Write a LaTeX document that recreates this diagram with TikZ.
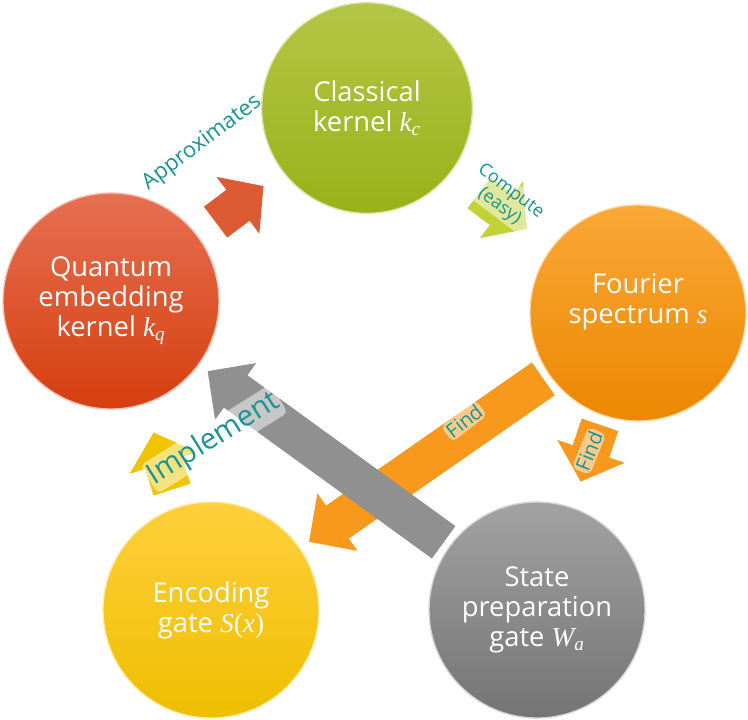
\documentclass[tikz,border=0pt]{standalone}
\usepackage{fontspec}
\setmainfont{Open Sans}
\newfontfamily\mathfam{Liberation Serif}
\usetikzlibrary{arrows.meta,calc,positioning}
\pgfdeclarelayer{bg}
\pgfsetlayers{bg,main}
\newcommand{\mv}[1]{{\mathfam\itshape #1}}
\newcommand{\mup}[1]{{\mathfam #1}}
\definecolor{kgreenT}{RGB}{180,198,70}
\definecolor{kgreenB}{RGB}{152,178,24}
\definecolor{korangeT}{RGB}{250,168,55}
\definecolor{korangeB}{RGB}{236,135,0}
\definecolor{kredT}{RGB}{230,112,82}
\definecolor{kredB}{RGB}{214,62,14}
\definecolor{kyellowT}{RGB}{255,208,60}
\definecolor{kyellowB}{RGB}{238,190,0}
\definecolor{kgrayT}{RGB}{162,162,162}
\definecolor{kgrayB}{RGB}{116,116,116}
\definecolor{karrow}{RGB}{248,152,28}
\definecolor{kteal}{RGB}{24,148,148}

\begin{document}
\begin{tikzpicture}[x=0.75pt,y=-0.75pt,
ball/.style={circle,inner sep=0pt,minimum size=162pt,align=center,text=white,
  font=\fontsize{20.5}{22.5}\selectfont,
  top color=#1T,bottom color=#1B,draw=#1T!45!white,line width=1pt},
bigarrow/.style={line width=30pt,line cap=butt,-{Triangle[length=26pt,width=51pt]},
  shorten <=5pt,shorten >=8pt},
cycarrow/.style={line width=29pt,line cap=butt,-{Triangle[length=24pt,width=52pt]}},
lbl/.style={text=kteal,inner sep=0pt},
glow/.style={lbl,fill=white,fill opacity=.5,text opacity=1,rounded corners=4pt,inner sep=1.5pt}]
\useasboundingbox (0,0) rectangle (748,719);
% circles
\node[ball=kgreen,minimum size=158pt] (classical) at (367,108) {Classical\\kernel \mv{k}\textsubscript{\mv{c}}};
\node[ball=korange,text depth=22pt] (fourier) at (638,313) {Fourier\\spectrum \mv{s}};
\node[ball=kred] (quantum) at (111,301) {Quantum\\embedding\\kernel \mv{k}\textsubscript{\mv{q}}};
\node[ball=kyellow] (encoding) at (211,610) {Encoding\\gate \mv{S}\mup{(}\mv{x}\mup{)}};
\node[ball=kgray] (state) at (537,610) {State\\preparation\\gate \mv{W}\textsubscript{\mv{a}}};
% long arrows, under the circles
\begin{pgfonlayer}{bg}
\draw[bigarrow,karrow] (fourier) -- (encoding);
\draw[bigarrow,kgrayB!80!white] (state) -- (quantum);
\end{pgfonlayer}
% cycle arrows
\path ($(quantum)!.5!(classical)$) coordinate (m1)
      ($(classical)!.5!(fourier)$) coordinate (m2)
      ($(fourier)!.47!(state)$) coordinate (m3)
      ($(encoding)!.48!(quantum)$) coordinate (m4);
\draw[cycarrow,kredB!85!white] ($(m1)!-22pt!(classical)$) -- ($(m1)!23pt!(classical)$);
\draw[cycarrow,kgreenT!80!yellow] ($(m2)!-22pt!(fourier)$) -- ($(m2)!23pt!(fourier)$);
\draw[cycarrow,karrow] ($(m3)!-22pt!(state)$) -- ($(m3)!23pt!(state)$);
\draw[cycarrow,kyellowB!90!yellow] ($(m4)!-22pt!(quantum)$) -- ($(m4)!23pt!(quantum)$);
% labels
\node[lbl,rotate=37,font=\fontsize{16.5}{18}\selectfont] (approx) at (202,143) {Approximates};
\node[glow,rotate=-37,align=center,font=\fontsize{13.5}{14}\selectfont] (compute) at (505,199) {Compute\\(easy)};
\node[glow,rotate=38,font=\fontsize{15}{16}\selectfont] (find1) at (464,421) {Find};
\node[glow,rotate=68,font=\fontsize{15}{16}\selectfont] (find2) at (589,451) {Find};
\node[glow,rotate=32,font=\fontsize{22}{23}\selectfont] (impl) at (214,439) {Implement};
\end{tikzpicture}
\end{document}
